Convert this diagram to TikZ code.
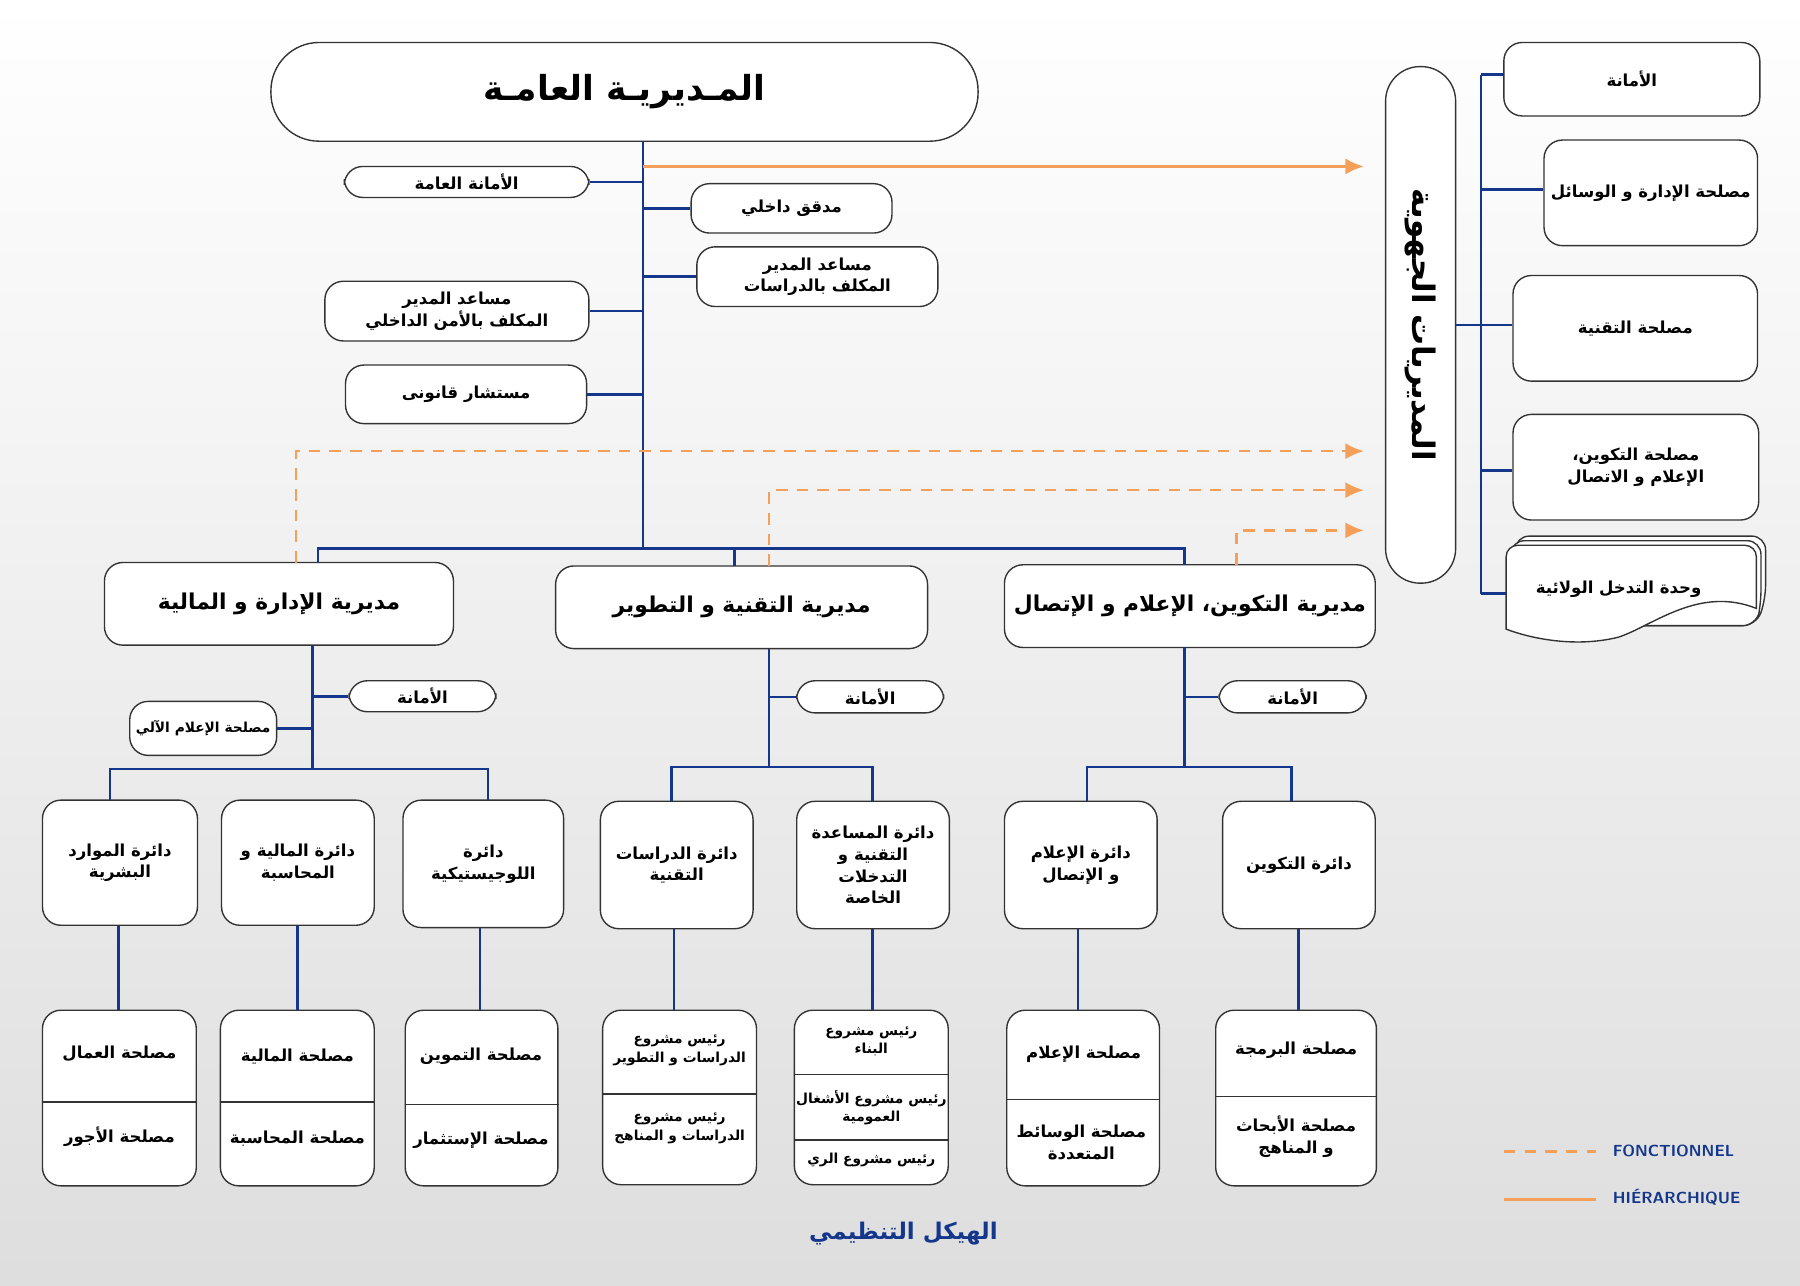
\documentclass[tikz,border=0pt]{standalone}
\usepackage{fontspec}
\TeXXeTstate=1
\newfontfamily\arabicfont[Script=Arabic]{DejaVu Sans}
\usetikzlibrary{calc,arrows.meta}
\newcommand\AR[1]{{\arabicfont\bfseries\beginR #1\endR}}
\definecolor{lblue}{RGB}{20,55,140}
\definecolor{lorange}{RGB}{245,160,90}
\tikzset{
 box/.style={draw=black!80,line width=0.6pt,rounded corners=8pt,fill=white,inner sep=0pt,align=center,font=\fontsize{7.2}{9.5}\selectfont},
 conn/.style={draw=lblue,line width=1.1pt},
 hier/.style={draw=lorange,line width=1pt,-{Latex[length=8pt,width=7pt]}},
 fonc/.style={draw=lorange,line width=1pt,dashed,dash pattern=on 5pt off 4pt,-{Latex[length=8pt,width=7pt]}}
}
\newcommand\bx[6]{\node[box,minimum width={(#4-#2)*0.5pt},minimum height={(#5-#3)*0.5pt}] (#1) at ({(#2+#4)/2},{(#3+#5)/2}) {#6};}
\begin{document}
\begin{tikzpicture}[x=0.5pt,y=-0.5pt]
\shade[top color=white,bottom color=black!13] (0,0) rectangle (1568,1119.4);
\useasboundingbox (0,0) rectangle (1568,1119.4);
% top
\node[box,rounded corners=21pt,minimum width=308pt,minimum height=43pt] (top) at (544,80) {\fontsize{15}{18}\selectfont\AR{المـديريـة العامـة}};
\coordinate (t0) at (560,123);
\coordinate (t1) at (560,478);
\draw[conn] (t0) -- (t1);
\bx{ag}{300}{145}{513}{172}{\AR{الأمانة العامة}}
\bx{sec}{283}{245}{513}{297}{\AR{مساعد المدير}\\\AR{المكلف بالأمن الداخلي}}
\bx{jur}{301}{318}{511}{369}{\AR{مستشار قانونى}}
\bx{aud}{602}{160}{777}{203}{\AR{مدقق داخلي}}
\bx{etu}{607}{215}{817}{267}{\AR{مساعد المدير}\\\AR{المكلف بالدراسات}}
\foreach \n in {ag,sec,jur}{\draw[conn] (\n.east) -- (\n.east -| t1);}
\foreach \n in {aud,etu}{\draw[conn] (\n.west) -- (\n.west -| t1);}
% regional
\node[box,rounded corners=15pt,minimum width=30.5pt,minimum height=225pt] (reg) at (1237.5,283) {};
\node[rotate=-90,font=\fontsize{13.5}{16}\selectfont] at (reg.center) {\AR{المديريات الجهوية}};
\coordinate (ar) at (1188,0);
\draw[hier] (560,145) -- (ar |- 0,145);
% directorates
\bx{d1}{91}{490}{395}{562}{\fontsize{9.5}{12}\selectfont\AR{مديرية الإدارة و المالية}}
\bx{d2}{484}{493}{808}{565}{\fontsize{9.5}{12}\selectfont\AR{مديرية التقنية و التطوير}}
\bx{d3}{875}{492}{1198}{564}{\fontsize{9.5}{12}\selectfont\AR{مديرية التكوين، الإعلام و الإتصال}}
\draw[conn] (277,490) |- (t1) -| (1032,492);
\draw[conn] (640,478) -- (640,493);
\draw[fonc] (258,490) |- (ar |- 0,393);
\draw[fonc] (670,493) |- (ar |- 0,427);
\draw[fonc] (1077,492) |- (ar |- 0,462);
% right column
\draw[conn] (1290,65) -- (1290,517);
\draw[conn] (reg.east |- 0,283) -- (1290,283);
\bx{r1}{1310}{37}{1533}{101}{\AR{الأمانة}}
\bx{r2}{1345}{122}{1531}{214}{\AR{مصلحة الإدارة و الوسائل}}
\bx{r3}{1318}{240}{1531}{332}{\AR{مصلحة التقنية}}
\bx{r4}{1318}{361}{1532}{453}{\AR{مصلحة التكوين،}\\\AR{الإعلام و الاتصال}}
\foreach \n/\y in {r1/65,r2/165,r3/283,r4/410}{\draw[conn] (1290,\y) -- (\n.west |- 0,\y);}
\foreach \d in {8,4}{
\draw[black!80,fill=white,line width=0.6pt,rounded corners=6pt] (1312+\d,475-\d) -- (1530+\d,475-\d) -- (1530+\d,530-\d) -- (1530,545) -- (1312+\d,545) -- cycle;}
\draw[black!80,fill=white,line width=0.6pt] (1322,475) -- (1520,475) to[out=0,in=90] (1530,485) -- (1530,530) .. controls (1480,510) and (1440,545) .. (1410,555) .. controls (1370,565) and (1330,555) .. (1312,548) -- (1312,485) to[out=90,in=180] (1322,475);
\node[font=\fontsize{7.2}{9}\selectfont] (r5) at (1410,513) {\AR{وحدة التدخل الولائية}};
\draw[conn] (1290,517) -- (1312,517);
% left sub-tree
\coordinate (l1) at (272,670);
\draw[conn] (272,562) -- (l1);
\bx{la}{304}{593}{432}{620}{\AR{الأمانة}}
\bx{li}{113}{611}{241}{658}{\fontsize{6}{8}\selectfont\AR{مصلحة الإعلام الآلي}}
\draw[conn] (la.west) -- (la.west -| l1);
\draw[conn] (li.east) -- (li.east -| l1);
\bx{c1}{37}{697}{172}{806}{\AR{دائرة الموارد}\\\AR{البشرية}}
\bx{c2}{193}{697}{326}{806}{\AR{دائرة المالية و}\\\AR{المحاسبة}}
\bx{c3}{351}{697}{491}{808}{\AR{دائرة}\\\AR{اللوجيستيكية}}
\draw[conn] (96,697) |- (l1) -| (425,697);
% middle
\coordinate (m1) at (670,668);
\draw[conn] (670,565) -- (m1);
\bx{ma}{694}{593}{822}{621}{\AR{الأمانة}}
\draw[conn] (ma.west) -- (ma.west -| m1);
\bx{c4}{523}{698}{656}{809}{\AR{دائرة الدراسات}\\\AR{التقنية}}
\bx{c5}{694}{698}{827}{809}{\AR{دائرة المساعدة}\\\AR{التقنية و}\\\AR{التدخلات}\\\AR{الخاصة}}
\draw[conn] (585,698) |- (m1) -| (760,698);
% right
\coordinate (k1) at (1032,668);
\draw[conn] (1032,564) -- (k1);
\bx{ka}{1062}{593}{1190}{621}{\AR{الأمانة}}
\draw[conn] (ka.west) -- (ka.west -| k1);
\bx{c6}{875}{698}{1008}{809}{\AR{دائرة الإعلام}\\\AR{و الإتصال}}
\bx{c7}{1065}{698}{1198}{809}{\AR{دائرة التكوين}}
\draw[conn] (947,698) |- (k1) -| (1125,698);
% bottom boxes
\bx{b1}{37}{880}{171}{1033}{}
\bx{b2}{192}{880}{326}{1033}{}
\bx{b3}{353}{880}{486}{1033}{}
\bx{b4}{525}{880}{659}{1032}{}
\bx{b5}{692}{880}{826}{1032}{}
\bx{b6}{877}{880}{1010}{1033}{}
\bx{b7}{1059}{880}{1199}{1033}{}
\draw[conn] (c1.south -| 103,0) -- (b1.north -| 103,0);
\draw[conn] (c2.south -| 259,0) -- (b2.north -| 259,0);
\draw[conn] (c3.south -| 418,0) -- (b3.north -| 418,0);
\draw[conn] (c4.south -| 587,0) -- (b4.north -| 587,0);
\draw[conn] (c5.south -| 760,0) -- (b5.north -| 760,0);
\draw[conn] (c6.south -| 939,0) -- (b6.north -| 939,0);
\draw[conn] (c7.south -| 1131,0) -- (b7.north -| 1131,0);
\foreach \n/\y in {b1/960,b2/960,b3/962,b4/953,b5/936,b5/993,b6/958,b7/955}{\draw[black!80,line width=0.6pt] (\n.west |- 0,\y) -- (\n.east |- 0,\y);}
\tikzset{bt/.style={align=center,font=\fontsize{7.2}{9.5}\selectfont}}
\tikzset{bs/.style={align=center,font=\fontsize{6}{8}\selectfont}}
\node[bt] at (104,918) {\AR{مصلحة العمال}};
\node[bt] at (104,990) {\AR{مصلحة الأجور}};
\node[bt] at (259,920) {\AR{مصلحة المالية}};
\node[bt] at (259,992) {\AR{مصلحة المحاسبة}};
\node[bt] at (419,920) {\AR{مصلحة التموين}};
\node[bt] at (419,993) {\AR{مصلحة الإستثمار}};
\node[bs] at (592,915) {\AR{رئيس مشروع}\\\AR{الدراسات و التطوير}};
\node[bs] at (592,983) {\AR{رئيس مشروع}\\\AR{الدراسات و المناهج}};
\node[bs] at (759,907) {\AR{رئيس مشروع}\\\AR{البناء}};
\node[bs] at (759,965) {\AR{رئيس مشروع الأشغال}\\\AR{العمومية}};
\node[bs] at (759,1010) {\AR{رئيس مشروع الري}};
\node[bt] at (944,918) {\AR{مصلحة الإعلام}};
\node[bt] at (942,995) {\AR{مصلحة الوسائط}\\\AR{المتعددة}};
\node[bt] at (1129,915) {\AR{مصلحة البرمجة}};
\node[bt] at (1129,990) {\AR{مصلحة الأبحاث}\\\AR{و المناهج}};
% legend
\coordinate (lg1) at (1310,1003); \coordinate (lg2) at (1390,1003);
\coordinate (lg3) at (1310,1045); \coordinate (lg4) at (1390,1045);
\draw[draw=lorange,line width=1pt,dashed,dash pattern=on 5pt off 4pt] (lg1) -- (lg2);
\draw[draw=lorange,line width=1pt] (lg3) -- (lg4);
\node[anchor=west,text=lblue,font=\sffamily\bfseries\fontsize{7}{8}\selectfont] at (1398,1003) {FONCTIONNEL};
\node[anchor=west,text=lblue,font=\sffamily\bfseries\fontsize{7}{8}\selectfont] at (1398,1043) {HIÉRARCHIQUE};
\node[text=lblue,font=\fontsize{10}{12}\selectfont] at (787,1075) {\AR{الهيكل التنظيمي}};
\end{tikzpicture}
\end{document}
